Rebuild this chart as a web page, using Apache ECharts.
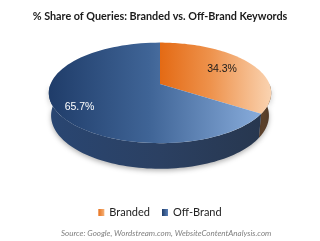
<!DOCTYPE html>
<html><head><meta charset="utf-8">
<script src="https://cdn.jsdelivr.net/npm/echarts/dist/echarts.min.js"></script>
<style>html,body{margin:0;padding:0;background:#fff}#c{width:320px;height:241px}</style>
</head><body><div id="c"></div>
<script>
const categories = ['Branded', 'Off-Brand'];
const shares = [34.3, 65.7];
const labels = ['34.3%', '65.7%'];
const titleText = '% Share of Queries: Branded vs. Off-Brand Keywords';
const sourceText = 'Source: Google, Wordstream.com, WebsiteContentAnalysis.com';

// perspective 3D pie projection
const CX = 160, CY = 84, D = 5.07, F = 555, SA = 0.445, CA = 0.895, H = 0.233;
function proj(u, w, h) { const d = D - h * SA - w * CA; return [CX + F * u / d, CY - F * (h * CA - w * SA) / d]; }
function rim(t, r, h) { return proj(r * Math.sin(t), -r * Math.cos(t), h); }
const total = shares.reduce((a, b) => a + b, 0);
function startAngle(i) { let s = 0; for (let k = 0; k < i; k++) s += shares[k]; return s / total * 2 * Math.PI; }

function lg(stops, x0, x1) { return { type: 'linear', x: x0, y: 0, x2: x1, y2: 0, global: true, colorStops: stops.map(s => ({ offset: s[0], color: s[1] })) }; }
const topFill = [
  lg([[0, '#e46a14'], [0.45, '#ee924c'], [1, '#fad4b2']], 160, 272),
  lg([[0, '#1f3c69'], [0.45, '#3f6496'], [1, '#8fb3e2']], 48, 272)
];
const sideFill = [
  lg([[0, '#6a4a30'], [1, '#4a3626']], 258, 272),
  lg([[0, '#294672'], [0.5, '#2b4062'], [1, '#27364d']], 48, 272)
];
const legendColors = [
  { type: 'linear', x: 0, y: 0, x2: 1, y2: 0, colorStops: [{ offset: 0, color: '#e8711c' }, { offset: 1, color: '#f4b27a' }] },
  { type: 'linear', x: 0, y: 0, x2: 1, y2: 0, colorStops: [{ offset: 0, color: '#1f3c69' }, { offset: 1, color: '#5a80b8' }] }
];
const labelColor = ['#1a1a1a', '#ffffff'];
const labelR = [0.68, 0.78];
const labelDy = [0, 4];

function makeSeries(i) {
  return {
    type: 'custom', name: categories[i], coordinateSystem: 'none',
    data: [shares[i]], silent: true,
    itemStyle: { color: legendColors[i] },
    renderItem: function (params, api) {
      const v = api.value(0);
      const a0 = startAngle(i), a1 = a0 + v / total * 2 * Math.PI;
      const n = 80;
      const children = [];
      const s0 = Math.max(a0, Math.PI / 2), s1 = Math.min(a1, 1.5 * Math.PI);
      if (s1 > s0) {
        const pts = [];
        for (let k = 0; k <= n; k++) pts.push(rim(s0 + (s1 - s0) * k / n, 1, 0));
        for (let k = n; k >= 0; k--) pts.push(rim(s0 + (s1 - s0) * k / n, 1, -H));
        children.push({ type: 'polygon', shape: { points: pts }, style: { fill: sideFill[i], shadowBlur: 5, shadowColor: 'rgba(0,0,0,0.3)', shadowOffsetY: 2 }, z2: 1 });
      }
      const top = [proj(0, 0, 0)];
      for (let k = 0; k <= n; k++) top.push(rim(a0 + (a1 - a0) * k / n, 1, 0));
      children.push({ type: 'polygon', shape: { points: top }, style: { fill: topFill[i] }, z2: 2 });
      const p = rim((a0 + a1) / 2, labelR[i], 0);
      children.push({ type: 'text', z2: 3, style: { text: labels[i], x: p[0], y: p[1] + labelDy[i], align: 'center', verticalAlign: 'middle', fill: labelColor[i], font: '10.5px "Liberation Sans", Arial, sans-serif' } });
      return { type: 'group', children: children };
    }
  };
}

const chart = echarts.init(document.getElementById('c'));
chart.setOption({
  animation: false,
  backgroundColor: '#ffffff',
  title: [
    { text: titleText, left: 'center', top: 6, textStyle: { fontFamily: 'Lato', fontWeight: 'bold', fontSize: 10.8, color: '#1a1a1a' } },
    { text: sourceText, left: 56, top: 224, textStyle: { fontFamily: 'Lato', fontStyle: 'italic', fontWeight: 'normal', fontSize: 8, color: '#7f7f7f' } }
  ],
  legend: {
    data: categories, top: 202, left: 'center', icon: 'rect', itemWidth: 6, itemHeight: 7, itemGap: 12,
    textStyle: { fontFamily: 'Lato', fontSize: 11, color: '#222' }
  },
  series: categories.map((c, i) => makeSeries(i))
});
</script></body></html>
